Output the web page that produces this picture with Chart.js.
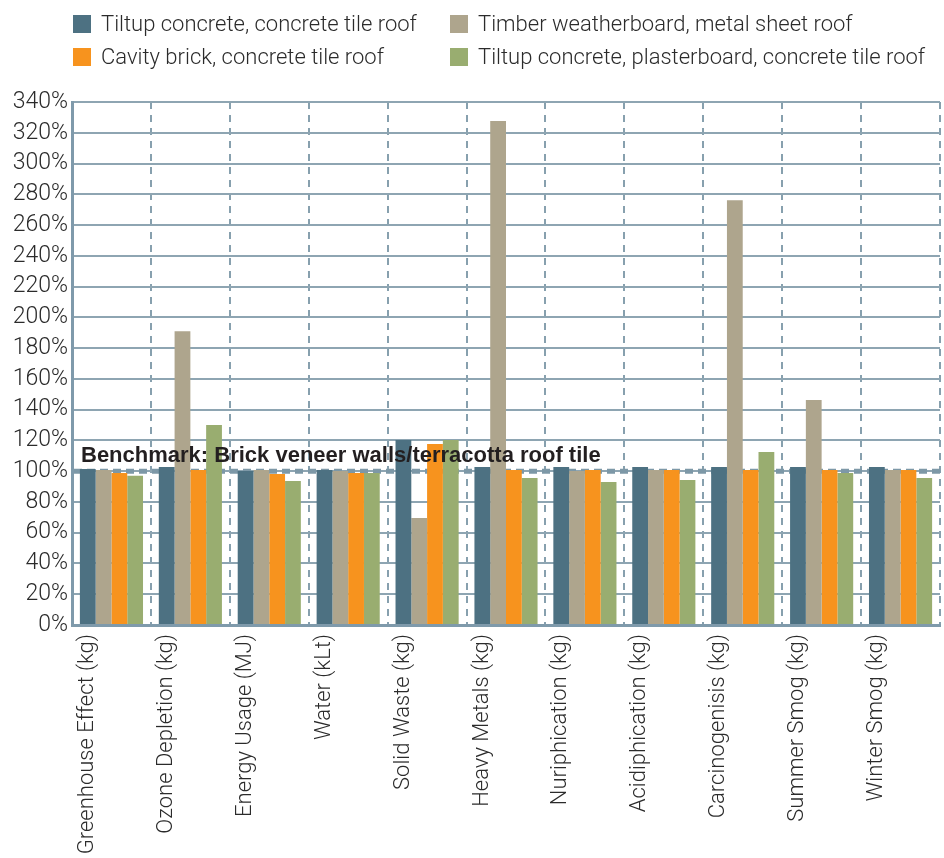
<!DOCTYPE html>
<html>
<head>
<meta charset="utf-8">
<title>Life cycle impacts by wall/roof type</title>
<script src="https://cdn.jsdelivr.net/npm/chart.js@4.4.1/dist/chart.umd.min.js"></script>
<style>
    html, body { margin: 0; padding: 0; background: #fff; }
    #wrap { position: relative; width: 944px; height: 858px; }
</style>
</head>
<body>
<div id="wrap"><canvas id="impactChart"></canvas></div>
<script>
// impact categories along the x axis
const categories = [
    "Greenhouse Effect (kg)", "Ozone Depletion (kg)", "Energy Usage (MJ)", "Water (kLt)",
    "Solid Waste (kg)", "Heavy Metals (kg)", "Nuriphication (kg)", "Acidiphication (kg)",
    "Carcinogenisis (kg)", "Summer Smog (kg)", "Winter Smog (kg)"
];

// % of the benchmark house, per construction type
const tiltupConcrete     = [101.4, 102.7, 100.1, 100.8, 120.3, 102.7, 102.7, 102.7, 102.7, 102.7, 102.7];
const timberWeatherboard = [100.8, 191.0, 100.8, 100.1,  69.6, 327.7, 100.1, 100.8, 276.2, 146.3, 100.8];
const cavityBrick        = [ 98.8, 100.8,  98.2,  98.8, 117.7, 100.8, 100.8, 100.8, 100.8, 100.8, 100.8];
const tiltupPlasterboard = [ 97.1, 130.0,  93.6,  98.8, 120.3,  95.6,  93.0,  94.3, 112.5,  98.8,  95.6];

const seriesNames = [
    "Tiltup concrete, concrete tile roof",
    "Timber weatherboard, metal sheet roof",
    "Cavity brick, concrete tile roof",
    "Tiltup concrete, plasterboard, concrete tile roof"
];
const seriesColors = ["#4d7182", "#aea58d", "#f7931e", "#99ad70"];

// y axis ticks: 0% .. 340% every 20
const yMin = 0;
const yMax = 340;
const yStep = 20;

const benchmarkValue = 100;
const benchmarkLabel = "Benchmark: Brick veneer walls/terracotta roof tile";

const lightFont = "Roboto";

// 2 x 2 legend in the top band
const gridLegend = {
    id: "gridLegend",
    afterDraw(chart) {
        const ctx = chart.ctx;
        const cols = [73, 450];
        const rows = [15, 48];
        ctx.save();
        ctx.font = "300 22px " + lightFont;
        ctx.textBaseline = "middle";
        ctx.textAlign = "left";
        // legend reads across: series 0,1 on row 1 and 2,3 on row 2
        chart.data.datasets.forEach((ds, i) => {
            const x = cols[i % 2];
            const y = rows[Math.floor(i / 2)];
            ctx.fillStyle = ds.backgroundColor;
            ctx.fillRect(x, y, 18, 18);
            ctx.fillStyle = "#2b2b2b";
            ctx.fillText(ds.label, x + 28, y + 10);
        });
        ctx.restore();
    }
};

// dashed benchmark line under the bars, caption on top of them
const benchmark = {
    id: "benchmark",
    beforeDatasetsDraw(chart) {
        const ctx = chart.ctx;
        const area = chart.chartArea;
        const y = chart.scales.y.getPixelForValue(benchmarkValue);
        ctx.save();
        ctx.strokeStyle = "#7d98a7";
        ctx.lineWidth = 5;
        ctx.setLineDash([8, 5]);
        ctx.beginPath();
        ctx.moveTo(area.left + 2, y);
        ctx.lineTo(area.right, y);
        ctx.stroke();
        ctx.restore();
    },
    afterDatasetsDraw(chart) {
        const ctx = chart.ctx;
        const y = chart.scales.y.getPixelForValue(benchmarkValue);
        ctx.save();
        ctx.font = "bold 22px 'Liberation Sans', Arial, sans-serif";
        ctx.fillStyle = "#231f20";
        ctx.textBaseline = "alphabetic";
        ctx.fillText(benchmarkLabel, 81, y - 9);
        ctx.restore();
    }
};

function createChart(id, config) {
    try {
        return new Chart(id, config);
    } catch (e) {
        console.log(e);
    }
}

const datasets = [tiltupConcrete, timberWeatherboard, cavityBrick, tiltupPlasterboard].map((values, i) => ({
    label: seriesNames[i],
    data: values,
    backgroundColor: seriesColors[i],
    borderWidth: 0,
    categoryPercentage: 0.8,
    barPercentage: 1.0
}));

createChart("impactChart", {
    type: "bar",
    data: { labels: categories, datasets: datasets },
    options: {
        responsive: true,
        maintainAspectRatio: false,
        animation: false,
        layout: { padding: { top: 102, right: 4, left: 0, bottom: 0 } },
        plugins: {
            legend: { display: false },
            tooltip: { enabled: false }
        },
        scales: {
            x: {
                grid: {
                    offset: true,
                    drawTicks: false,
                    lineWidth: 2,
                    color: (c) => (c.index === 0 || c.index >= categories.length) ? "rgba(0,0,0,0)" : "#87a0ae"
                },
                border: { display: true, color: "#7f9aab", width: 3, dash: [7, 6] },
                ticks: {
                    autoSkip: false,
                    minRotation: 90,
                    maxRotation: 90,
                    labelOffset: -24,
                    padding: 9,
                    color: "#2b2b2b",
                    font: { family: lightFont, size: 22, weight: 300 }
                },
                afterFit(scale) { scale.height = 233; }
            },
            y: {
                min: yMin,
                max: yMax,
                grid: {
                    drawTicks: false,
                    lineWidth: 2,
                    color: "#8ea5b2"
                },
                border: { display: true, color: "#7f9aab", width: 3 },
                ticks: {
                    stepSize: yStep,
                    padding: 4,
                    color: "#2b2b2b",
                    font: { family: lightFont, size: 23, weight: 300 },
                    callback: (v) => v + "%"
                },
                afterFit(scale) { scale.width = 72; }
            }
        }
    },
    plugins: [gridLegend, benchmark]
});
</script>
</body>
</html>
